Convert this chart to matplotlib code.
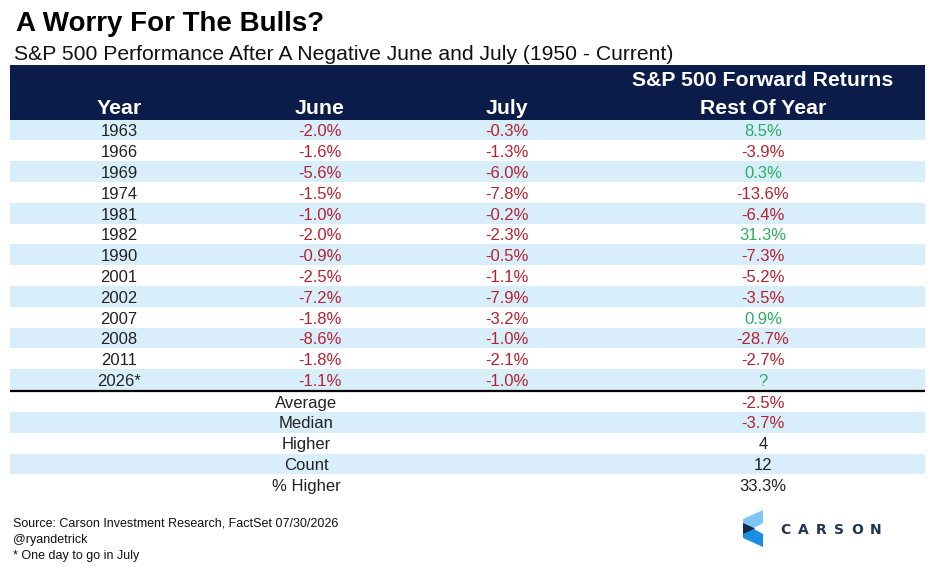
import matplotlib
matplotlib.use('Agg')
import matplotlib.pyplot as plt
from matplotlib.patches import Rectangle, Polygon

plt.rcParams['font.family'] = ['Liberation Sans', 'DejaVu Sans']

# Datos de la tabla
years = ['1963', '1966', '1969', '1974', '1981', '1982', '1990', '2001', '2002', '2007', '2008', '2011', '2026*']
june = [-2.0, -1.6, -5.6, -1.5, -1.0, -2.0, -0.9, -2.5, -7.2, -1.8, -8.6, -1.8, -1.1]
july = [-0.3, -1.3, -6.0, -7.8, -0.2, -2.3, -0.5, -1.1, -7.9, -3.2, -1.0, -2.1, -1.0]
rest = [8.5, -3.9, 0.3, -13.6, -6.4, 31.3, -7.3, -5.2, -3.5, 0.9, -28.7, -2.7, None]

summary_labels = ['Average', 'Median', 'Higher', 'Count', '% Higher']
summary_values = ['-2.5%', '-3.7%', '4', '12', '33.3%']

headers = ['Year', 'June', 'July']
header_right = ['S&P 500 Forward Returns', 'Rest Of Year']

# Colores
navy = '#0b1c4b'
stripe = '#d9eefb'
red = '#b3232f'
green = '#2aae62'
dark = '#222222'

W, H = 936, 574
fig = plt.figure(figsize=(W / 100, H / 100), dpi=100)
ax = fig.add_axes([0, 0, 1, 1])
ax.set_xlim(0, W)
ax.set_ylim(H, 0)
ax.axis('off')

# Geometria de la tabla (pixeles)
left, right = 10, 925
head_top, head_bot = 65, 119.5
row_h = 20.8
col_x = [119, 320, 507, 763]
summary_x = 306
base_off = 16.8  # de la parte superior de la fila a la linea base


def pct_color(v):
    return green if v > 0 else red


# Titulos
ax.text(16, 30.7, 'A Worry For The Bulls?', fontsize=20, fontweight='bold', va='baseline', ha='left', color='black')
ax.text(14, 60.3, 'S&P 500 Performance After A Negative June and July (1950 - Current)',
        fontsize=15.2, va='baseline', ha='left', color='#111111')

# Encabezado
ax.add_patch(Rectangle((left, head_top), right - left, head_bot - head_top, color=navy, lw=0))
for x, h in zip(col_x[:3], headers):
    ax.text(x, 114.5, h, fontsize=15.3, fontweight='bold', color='white', ha='center', va='baseline')
ax.text(col_x[3], 86.5, header_right[0], fontsize=15.3, fontweight='bold', color='white', ha='center', va='baseline')
ax.text(col_x[3], 114.5, header_right[1], fontsize=15.3, fontweight='bold', color='white', ha='center', va='baseline')

# Filas
for i, yr in enumerate(years):
    y0 = head_bot + i * row_h
    yb = y0 + base_off
    if i % 2 == 0:
        ax.add_patch(Rectangle((left, y0), right - left, row_h, color=stripe, lw=0))
    ax.text(col_x[0], yb, yr, fontsize=12, color=dark, ha='center', va='baseline')
    ax.text(col_x[1], yb, f'{june[i]:.1f}%', fontsize=12, color=pct_color(june[i]), ha='center', va='baseline')
    ax.text(col_x[2], yb, f'{july[i]:.1f}%', fontsize=12, color=pct_color(july[i]), ha='center', va='baseline')
    if rest[i] is None:
        ax.text(col_x[3], yb, '?', fontsize=12, color=green, ha='center', va='baseline')
    else:
        ax.text(col_x[3], yb, f'{rest[i]:.1f}%', fontsize=12, color=pct_color(rest[i]), ha='center', va='baseline')

sum_top = head_bot + len(years) * row_h + 0.8
ax.plot([left, right], [sum_top, sum_top], color='black', lw=1.6, solid_capstyle='butt')

for j, (lab, val) in enumerate(zip(summary_labels, summary_values)):
    y0 = sum_top + j * row_h
    yb = y0 + base_off
    if j % 2 == 1:
        ax.add_patch(Rectangle((left, y0 + 0.5), right - left, row_h, color=stripe, lw=0))
    ax.text(summary_x, yb, lab, fontsize=12, color=dark, ha='center', va='baseline')
    col = red if val.startswith('-') else dark
    ax.text(col_x[3], yb, val, fontsize=12, color=col, ha='center', va='baseline')

# Pie de pagina
notes = ['Source: Carson Investment Research, FactSet 07/30/2026', '@ryandetrick', '* One day to go in July']
for k, t in enumerate(notes):
    ax.text(13, 526.5 + k * 16.4, t, fontsize=9, color='#111111', ha='left', va='baseline')

# Logo CARSON
ax.add_patch(Polygon([(743, 519), (763, 510), (763, 523), (754, 528), (743, 528)], color='#7cc5f6', lw=0))
ax.add_patch(Polygon([(743, 529), (754, 529), (763, 534), (763, 547), (743, 538)], color='#1d8fe3', lw=0))
ax.add_patch(Polygon([(743, 523), (755, 528.5), (743, 534)], color='#13294b', lw=0))
for k, ch in enumerate('CARSON'):
    ax.text(785 + k * 18.1, 534.2, ch, fontsize=10, fontweight='bold', color='#1e3550',
            ha='center', va='baseline', family='DejaVu Sans')

fig.savefig('out.png', dpi=100)
